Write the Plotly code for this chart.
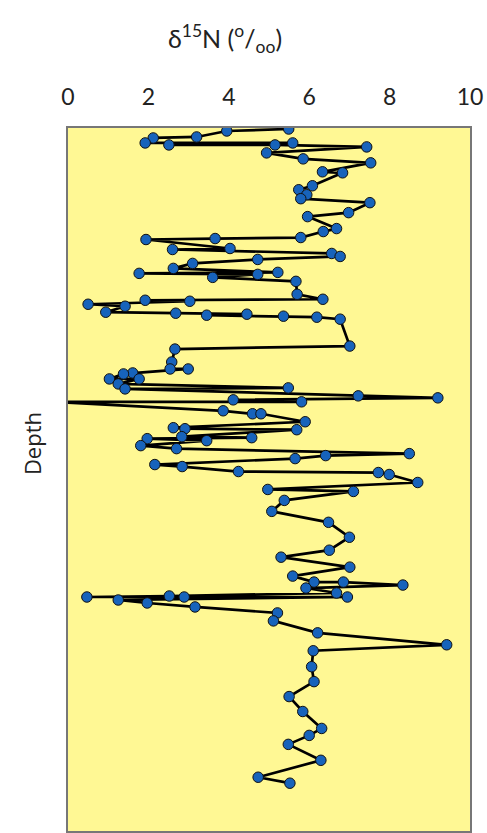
import plotly.graph_objects as go

# delta15N values (per mil), ordered by depth
d15n = [5.49, 3.95, 3.20, 2.12, 1.92, 5.59, 2.51, 5.15, 7.43, 4.94,
        5.85, 7.53, 6.33, 6.83, 6.08, 5.74, 5.94, 5.79, 7.51, 6.98,
        5.96, 6.68, 6.35, 5.79, 3.66, 1.94, 4.03, 2.60, 6.56, 6.77,
        4.72, 3.10, 2.62, 5.22, 1.77, 4.72, 3.60, 5.67, 5.70, 6.34,
        1.92, 3.03, 0.50, 1.42, 0.94, 2.68, 4.45, 3.45, 5.36, 6.19,
        6.77, 7.01, 2.66, 2.58, 2.54, 2.99, 1.61, 1.38, 1.03, 1.77,
        1.25, 5.48, 1.42, 7.22, 9.20, 4.11, 5.81, -0.40, 3.86, 4.59,
        4.80, 5.90, 2.62, 2.91, 5.69, 2.83, 4.57, 1.97, 3.45, 1.81,
        2.70, 8.49, 6.41, 5.65, 2.16, 2.84, 4.24, 7.72, 7.99, 8.70,
        4.97, 7.10, 5.38, 5.07, 6.48, 7.00, 6.50, 5.30, 7.01, 5.59,
        6.12, 6.85, 8.33, 5.92, 6.68, 2.52, 0.47, 2.89, 6.95, 1.25,
        1.97, 3.16, 5.21, 5.11, 6.21, 9.42, 6.10, 6.06, 6.12, 5.50,
        5.84, 6.31, 6.00, 5.48, 6.29, 4.73, 5.52]

# depth (arbitrary units, increasing downward)
depth = [0, 2, 8, 9, 14, 14, 16, 16, 18, 24,
         30, 34, 43, 44, 57, 61, 66, 70, 74, 84,
         88, 100, 103, 109, 110, 111, 120, 121, 125, 128,
         131, 135, 140, 144, 145, 146, 149, 153, 166, 171,
         172, 173, 176, 178, 184, 185, 186, 187, 188, 189,
         191, 218, 221, 234, 241, 241, 245, 246, 251, 251,
         256, 260, 261, 268, 270, 272, 274, 274, 283, 286,
         286, 294, 300, 301, 302, 309, 310, 311, 313, 318,
         321, 326, 328, 331, 337, 339, 344, 345, 347, 355,
         362, 364, 373, 384, 395, 410, 423, 430, 440, 449,
         455, 455, 458, 461, 466, 469, 470, 470, 470, 473,
         476, 480, 486, 494, 506, 518, 524, 540, 555, 570,
         585, 602, 609, 618, 634, 651, 657]

x_ticks = [0, 2, 4, 6, 8, 10]

fig = go.Figure()
fig.add_trace(go.Scatter(
    x=d15n, y=depth, mode="lines+markers",
    line=dict(color="black", width=2.7),
    marker=dict(size=10.5, color="#1763bb", line=dict(color="#111", width=1)),
    cliponaxis=True, showlegend=False,
))

fig.update_layout(
    width=487, height=833,
    margin=dict(l=68, r=17, t=128, b=0),
    paper_bgcolor="white",
    plot_bgcolor="#fff894",
    font=dict(family="Lato, Open Sans, sans-serif", color="#222"),
    xaxis=dict(
        side="top", range=[0, 10], tickvals=x_ticks,
        ticktext=[str(v) for v in x_ticks],
        showgrid=False, zeroline=False,
        showline=True, mirror=True, linecolor="#777", linewidth=2,
        ticks="outside", ticklen=12, tickcolor="rgba(0,0,0,0)",
        tickfont=dict(size=23, family="Lato, Open Sans, sans-serif", color="#222"),
    ),
    yaxis=dict(
        range=[705, -1], showticklabels=False, showgrid=False, zeroline=False,
        showline=True, mirror=True, linecolor="#777", linewidth=2, ticks="",
    ),
    annotations=[
        dict(text="δ<sup>15</sup>N (<sup>o</sup>/<sub>oo</sub>)", xref="paper", yref="paper",
             x=(225 - 68) / 402, y=1 + (128 - 38) / 705, xanchor="center", yanchor="middle",
             showarrow=False, font=dict(size=25, family="Lato, Open Sans, sans-serif", color="#222")),
        dict(text="Depth", xref="paper", yref="paper", textangle=-90,
             x=(32 - 68) / 402, y=1 - (445 - 128) / 705, xanchor="center", yanchor="middle",
             showarrow=False, font=dict(size=22, family="Open Sans, sans-serif", color="#222")),
    ],
)

fig.write_html("out.html")
